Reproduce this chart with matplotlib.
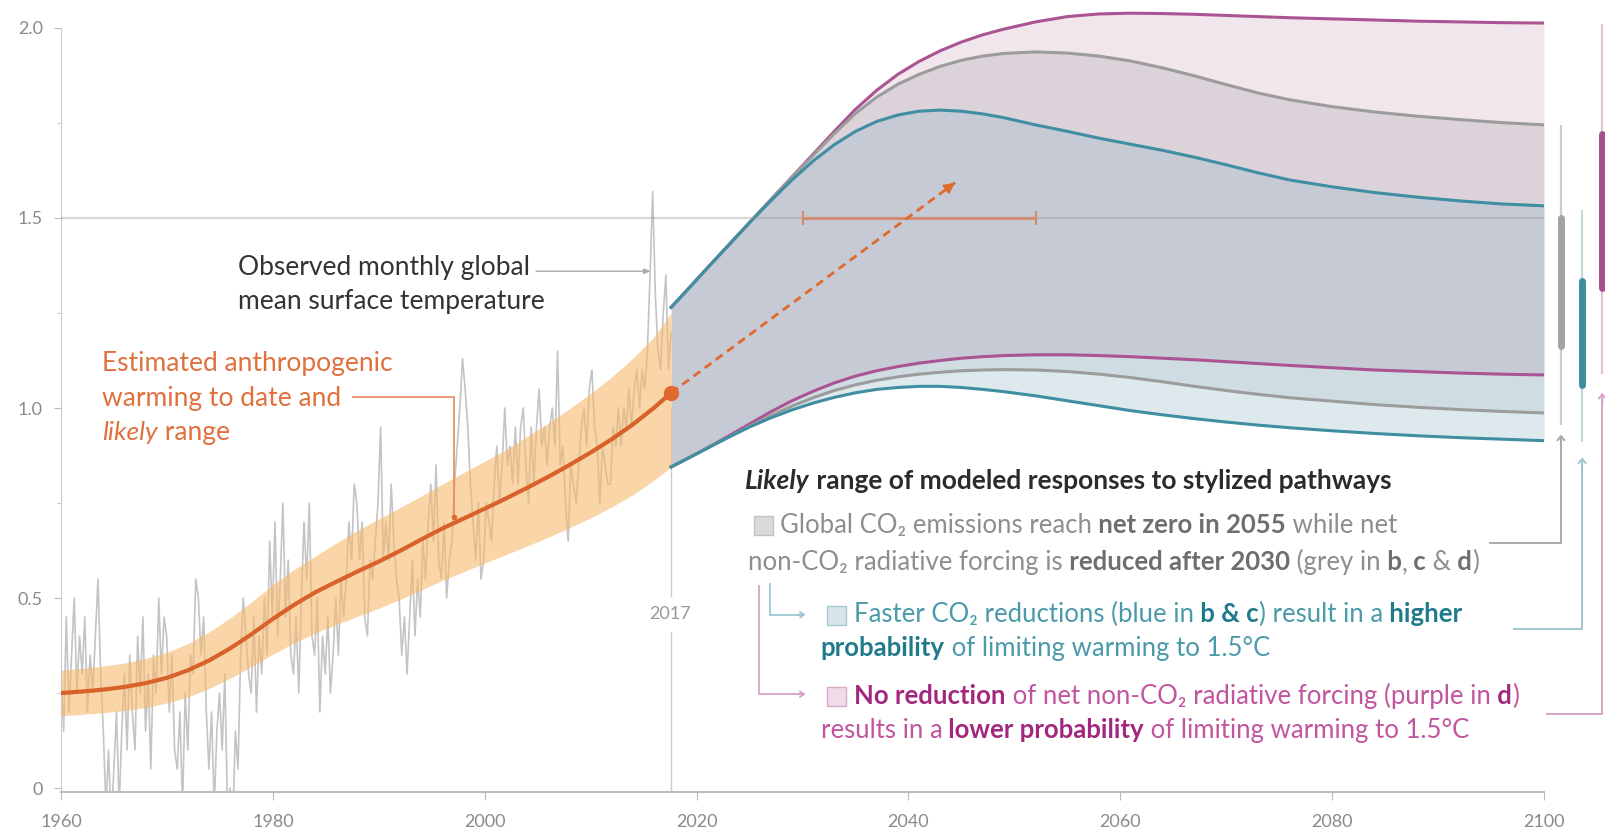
import numpy as np
import matplotlib
matplotlib.use('Agg')
import matplotlib.pyplot as plt
from matplotlib.patches import Rectangle
from matplotlib.transforms import offset_copy

plt.rcParams['font.family'] = ['Lato', 'DejaVu Sans']

# observed global mean surface temperature (4 values per year)
obs_temp = [
    0.30, 0.15, 0.45, 0.20,   0.35, 0.50, 0.25, 0.40,   0.30, 0.45, 0.20, 0.35,
    0.25, 0.40, 0.55, 0.30,   0.15, -0.05, 0.10, -0.10, 0.05, 0.20, -0.05, 0.15,
    0.30, 0.10, 0.35, 0.20,   0.10, 0.40, 0.25, 0.45,   0.15, 0.30, 0.05, 0.35,
    0.25, 0.50, 0.30, 0.45,   0.40, 0.20, 0.35, 0.10,   0.05, 0.20, -0.05, 0.25,
    0.10, 0.35, 0.30, 0.55,   0.50, 0.35, 0.45, 0.20,   0.05, 0.20, -0.05, 0.15,
    0.25, 0.10, 0.30, -0.05,  0.00, -0.10, 0.15, 0.05,  0.35, 0.50, 0.40, 0.30,
    0.25, 0.45, 0.20, 0.40,   0.30, 0.50, 0.35, 0.65,   0.45, 0.70, 0.40, 0.55,
    0.75, 0.45, 0.60, 0.35,   0.30, 0.45, 0.25, 0.50,   0.70, 0.55, 0.75, 0.40,
    0.35, 0.50, 0.20, 0.40,   0.30, 0.45, 0.25, 0.35,   0.50, 0.35, 0.55, 0.45,
    0.55, 0.70, 0.60, 0.80,   0.75, 0.60, 0.70, 0.45,   0.40, 0.60, 0.55, 0.65,
    0.75, 0.95, 0.60, 0.70,   0.60, 0.80, 0.65, 0.55,   0.50, 0.35, 0.45, 0.30,
    0.45, 0.60, 0.40, 0.55,   0.45, 0.65, 0.55, 0.70,   0.80, 0.65, 0.85, 0.60,
    0.55, 0.70, 0.50, 0.60,   0.65, 0.80, 0.90, 1.00,   1.13, 1.05, 0.95, 0.80,
    0.70, 0.60, 0.75, 0.55,   0.60, 0.75, 0.70, 0.65,   0.80, 0.90, 0.75, 0.85,
    1.00, 0.85, 0.90, 0.80,   0.95, 0.80, 0.95, 1.00,   0.85, 0.75, 0.95, 0.80,
    0.95, 1.05, 0.90, 0.95,   0.85, 0.95, 1.00, 0.90,   1.15, 0.85, 0.90, 0.75,
    0.65, 0.85, 0.80, 0.75,   0.85, 0.95, 1.00, 0.90,   1.05, 1.10, 0.95, 0.90,
    0.75, 0.90, 0.85, 0.80,   0.80, 0.95, 0.90, 1.00,   0.90, 1.00, 0.95, 1.05,
    0.95, 1.05, 1.10, 1.00,   1.10, 1.05, 1.15, 1.35,   1.57, 1.30, 1.15, 1.10,
    1.25, 1.35, 1.10, 1.20,
]
obs_first, obs_last = 1960, 2017.6

# human-induced warming and its likely range
anth_years = [1960, 1962, 1964, 1966, 1968, 1970, 1972, 1974, 1976, 1978,
              1980, 1982, 1984, 1986, 1988, 1990, 1992, 1994, 1996, 1998,
              2000, 2002, 2004, 2006, 2008, 2010, 2012, 2014, 2016, 2017.6]
anth_mid = [0.250, 0.254, 0.259, 0.266, 0.276, 0.290, 0.310, 0.336, 0.368, 0.405,
            0.445, 0.482, 0.515, 0.543, 0.570, 0.596, 0.624, 0.654, 0.683, 0.709,
            0.735, 0.762, 0.790, 0.819, 0.850, 0.883, 0.918, 0.957, 1.001, 1.040]
anth_lo = [0.190, 0.194, 0.198, 0.204, 0.212, 0.224, 0.240, 0.262, 0.289, 0.320,
           0.352, 0.382, 0.408, 0.430, 0.452, 0.473, 0.496, 0.521, 0.546, 0.569,
           0.592, 0.614, 0.637, 0.660, 0.685, 0.711, 0.740, 0.772, 0.810, 0.845]
anth_hi = [0.310, 0.315, 0.321, 0.329, 0.341, 0.357, 0.380, 0.411, 0.448, 0.490,
           0.535, 0.575, 0.610, 0.645, 0.678, 0.708, 0.738, 0.768, 0.800, 0.830,
           0.860, 0.890, 0.925, 0.960, 0.998, 1.038, 1.082, 1.131, 1.188, 1.250]

# stylized pathways, likely range
proj_years = [2017.6, 2019, 2021, 2023, 2025, 2027, 2029, 2031, 2033, 2035, 2037, 2039,
              2041, 2043, 2045, 2047, 2049, 2052, 2055, 2058, 2061, 2064, 2067, 2070,
              2073, 2076, 2080, 2084, 2088, 2092, 2096, 2100]
blue_hi = [1.265, 1.307, 1.368, 1.428, 1.488, 1.545, 1.600, 1.650, 1.693, 1.728, 1.754, 1.771,
           1.781, 1.784, 1.781, 1.774, 1.764, 1.745, 1.728, 1.710, 1.694, 1.678, 1.660, 1.640,
           1.619, 1.600, 1.582, 1.567, 1.555, 1.545, 1.537, 1.532]
grey_hi = [1.265, 1.307, 1.368, 1.428, 1.488, 1.548, 1.607, 1.665, 1.722, 1.775, 1.818, 1.852,
           1.878, 1.899, 1.915, 1.926, 1.933, 1.937, 1.934, 1.926, 1.913, 1.895, 1.874, 1.851,
           1.829, 1.811, 1.793, 1.779, 1.768, 1.759, 1.751, 1.745]
purple_hi = [1.265, 1.307, 1.368, 1.428, 1.488, 1.548, 1.608, 1.668, 1.728, 1.786, 1.836, 1.878,
             1.912, 1.940, 1.963, 1.982, 1.997, 2.016, 2.030, 2.037, 2.039, 2.038, 2.036, 2.033,
             2.030, 2.027, 2.024, 2.021, 2.018, 2.016, 2.014, 2.013]
blue_lo = [0.845, 0.865, 0.894, 0.923, 0.950, 0.974, 0.995, 1.013, 1.028, 1.040, 1.049, 1.054,
           1.057, 1.057, 1.054, 1.049, 1.043, 1.032, 1.019, 1.006, 0.993, 0.982, 0.972, 0.963,
           0.955, 0.948, 0.940, 0.933, 0.927, 0.922, 0.918, 0.914]
grey_lo = [0.845, 0.865, 0.894, 0.923, 0.952, 0.980, 1.005, 1.027, 1.046, 1.061, 1.073, 1.082,
           1.089, 1.094, 1.098, 1.100, 1.101, 1.100, 1.096, 1.089, 1.080, 1.069, 1.057, 1.046,
           1.036, 1.027, 1.018, 1.009, 1.002, 0.996, 0.991, 0.987]
purple_lo = [0.845, 0.865, 0.895, 0.926, 0.958, 0.990, 1.019, 1.044, 1.066, 1.084, 1.098, 1.109,
             1.118, 1.125, 1.131, 1.135, 1.138, 1.140, 1.140, 1.138, 1.135, 1.131, 1.127, 1.122,
             1.117, 1.112, 1.106, 1.100, 1.096, 1.092, 1.089, 1.087]

# present-rate extrapolation and the 1.5 crossing range
trend_years = [2017.6, 2044.4]
trend_vals = [1.04, 1.593]
cross_years = [2030, 2052]

# ranges at 2100 (grey, blue, purple)
bar_thin_lo = [0.955, 0.91, 1.09]
bar_thin_hi = [1.745, 1.52, 2.01]
bar_thick_lo = [1.163, 1.06, 1.315]
bar_thick_hi = [1.50, 1.335, 1.72]

fig = plt.figure(figsize=(16.06, 8.33), dpi=100)
ax = fig.add_axes([0.038, 0.0492, 0.9234, 0.9412])
ax.set_xlim(1960, 2100)
ax.set_ylim(-0.0105, 2.0526)

# observed monthly data + anthropogenic warming
obs_x = np.linspace(obs_first, obs_last, len(obs_temp))
ax.plot(obs_x, obs_temp, color='#c4c4c4', lw=1.2, zorder=2)
ax.fill_between(anth_years, anth_lo, anth_hi, color='#f5b96e', alpha=0.6, lw=0, zorder=3)
ax.plot(anth_years, anth_mid, color='#d9622b', lw=3, zorder=6, solid_capstyle='round')
ax.plot(anth_years[-1], anth_mid[-1], 'o', color='#e0692e', ms=10, zorder=7)

# pathway regions
ax.fill_between(proj_years, blue_lo, grey_lo, color='#dde9ed', lw=0, zorder=1)
ax.fill_between(proj_years, grey_lo, purple_lo, color='#cfdce1', lw=0, zorder=1)
ax.fill_between(proj_years, purple_lo, blue_hi, color='#c6cad4', lw=0, zorder=1)
ax.fill_between(proj_years, blue_hi, grey_hi, color='#dcd2da', lw=0, zorder=1)
ax.fill_between(proj_years, grey_hi, purple_hi, color='#f1e6ec', lw=0, zorder=1)
for lo, hi, c in [(purple_lo, purple_hi, '#ab5493'), (grey_lo, grey_hi, '#9c9c9c'),
                  (blue_lo, blue_hi, '#3f8ea2')]:
    ax.plot(proj_years, lo, color=c, lw=2.2, zorder=4)
    ax.plot(proj_years, hi, color=c, lw=2.2, zorder=4)

# 1.5 line, 2017 marker line
ax.axhline(1.5, color='#9a9a9a', alpha=0.4, lw=1.6, zorder=5)
ax.plot([2017.6, 2017.6], [-0.0105, 0.41], color='#cccccc', lw=1, zorder=2)
ax.plot([2017.6, 2017.6], [0.505, 1.0], color='#cccccc', lw=1, zorder=2)
ax.text(2017.5, 0.458, '2017', fontsize=13, color='#999999', ha='center', va='center')

# crossing range and extrapolation arrow
ax.errorbar(np.mean(cross_years), 1.5, xerr=(cross_years[1] - cross_years[0]) / 2,
            fmt='none', ecolor='#d68a6c', elinewidth=2, capsize=5, capthick=1.5, zorder=6)
ax.plot(trend_years, trend_vals, color='#e0692e', lw=2, ls=(0, (3, 2)), zorder=7)
slope = (trend_vals[1] - trend_vals[0]) / (trend_years[1] - trend_years[0])
ax.annotate('', xy=(trend_years[1], trend_vals[1]),
            xytext=(trend_years[1] - 0.6, trend_vals[1] - 0.6 * slope),
            arrowprops=dict(arrowstyle='-|>,head_length=0.7,head_width=0.35', color='#e0692e',
                            lw=1, shrinkA=0, shrinkB=0), zorder=8)

# bars at 2100
bar_x = [2101.6, 2103.6, 2105.5]
thin_c = ['#cccccc', '#c4d8de', '#dfc3d5']
thick_c = ['#a3a3a3', '#3e8ea0', '#a8508f']
for i in range(3):
    ax.plot([bar_x[i]] * 2, [bar_thin_lo[i], bar_thin_hi[i]], color=thin_c[i], lw=1.6,
            clip_on=False, solid_capstyle='butt')
    ax.plot([bar_x[i]] * 2, [bar_thick_lo[i], bar_thick_hi[i]], color=thick_c[i], lw=5,
            clip_on=False, solid_capstyle='round')

# connectors from legend lines to bars
conn = [(2094.9, 0.645, 0.93, '#aaaaaa'), (2097.2, 0.418, 0.87, '#9fc6d1'),
        (2100.3, 0.195, 1.04, '#d6a7c7')]
for i, (x0, y0, y1, c) in enumerate(conn):
    ax.plot([x0, bar_x[i], bar_x[i]], [y0, y0, y1 - 0.01], color=c, lw=1.4, clip_on=False)
    ax.annotate('', xy=(bar_x[i], y1), xytext=(bar_x[i], y1 - 0.03),
                arrowprops=dict(arrowstyle='->,head_length=0.3,head_width=0.25', color=c,
                                lw=1.4, shrinkA=0, shrinkB=0), annotation_clip=False)

renderer = fig.canvas.get_renderer()


def rich_line(x, y, parts, size):
    dx = 0
    for s, color, weight, style in parts:
        tr = offset_copy(ax.transData, fig=fig, x=dx, y=0, units='dots')
        t = ax.text(x, y, s, transform=tr, fontsize=size, color=color,
                    fontweight=weight, fontstyle=style, ha='left', va='baseline', zorder=9)
        dx += t.get_window_extent(renderer).width


# annotations on the left
obs_c = '#333333'
rich_line(1976.7, 1.351, [('Observed monthly global', obs_c, 'normal', 'normal')], 19)
rich_line(1976.7, 1.26, [('mean surface temperature', obs_c, 'normal', 'normal')], 19)
ax.annotate('', xy=(2015.7, 1.36), xytext=(2004.85, 1.36),
            arrowprops=dict(arrowstyle='-|>,head_length=0.4,head_width=0.15', color='#aaaaaa',
                            lw=1, shrinkA=0, shrinkB=0))

est_c = '#e0703c'
rich_line(1963.9, 1.097, [('Estimated anthropogenic', est_c, 'normal', 'normal')], 19)
rich_line(1963.9, 1.004, [('warming to date and', est_c, 'normal', 'normal')], 19)
rich_line(1963.9, 0.915, [('likely', est_c, 'normal', 'italic'),
                          (' range', est_c, 'normal', 'normal')], 19)
ax.plot([1987.6, 1997.1, 1997.1], [1.029, 1.029, 0.713], color='#e58a60', lw=1.2, zorder=6)
ax.plot(1997.1, 0.713, 'o', color='#e0692e', ms=3, zorder=6)

# legend block
fs = 18.5
rich_line(2024.6, 0.787, [('Likely', '#2b2b2b', 'bold', 'italic'),
                          (' range of modeled responses to stylized pathways', '#2b2b2b', 'bold', 'normal')], 19)

gn, gb = '#8e8e8e', '#6e6e6e'
ax.add_patch(Rectangle((2025.4, 0.665), 1.8, 0.05, facecolor='#dadada', edgecolor='#c2c2c2',
                       lw=1, zorder=9, clip_on=False))
rich_line(2027.9, 0.671, [('Global CO₂ emissions reach', gn, 'normal', 'normal'),
                          (' net zero in 2055', gb, 'bold', 'normal'),
                          (' while net', gn, 'normal', 'normal')], fs)
rich_line(2024.9, 0.574, [('non-CO₂ radiative forcing is', gn, 'normal', 'normal'),
                          (' reduced after 2030', gb, 'bold', 'normal'),
                          (' (grey in', gn, 'normal', 'normal'),
                          (' b', gb, 'bold', 'normal'),
                          (',', gn, 'normal', 'normal'),
                          (' c', gb, 'bold', 'normal'),
                          (' &', gn, 'normal', 'normal'),
                          (' d', gb, 'bold', 'normal'),
                          (')', gn, 'normal', 'normal')], fs)

bn, bb = '#4a9aaa', '#1f7a8c'
ax.plot([2026.9, 2026.9, 2030.0], [0.537, 0.456, 0.456], color='#9cc6d2', lw=1.3, zorder=9)
ax.annotate('', xy=(2030.3, 0.456), xytext=(2029.5, 0.456),
            arrowprops=dict(arrowstyle='->,head_length=0.3,head_width=0.2', color='#9cc6d2',
                            lw=1.3, shrinkA=0, shrinkB=0))
ax.add_patch(Rectangle((2032.3, 0.43), 1.8, 0.05, facecolor='#d6e6eb', edgecolor='#a9cad3',
                       lw=1, zorder=9, clip_on=False))
rich_line(2034.9, 0.437, [('Faster CO₂ reductions (blue in', bn, 'normal', 'normal'),
                          (' b & c', bb, 'bold', 'normal'),
                          (') result in a', bn, 'normal', 'normal'),
                          (' higher', bb, 'bold', 'normal')], fs)
rich_line(2031.7, 0.347, [('probability', bb, 'bold', 'normal'),
                          (' of limiting warming to 1.5°C', bn, 'normal', 'normal')], fs)

pn, pb = '#c2559f', '#a3267f'
ax.plot([2025.9, 2025.9, 2030.0], [0.532, 0.247, 0.247], color='#d9a0c6', lw=1.3, zorder=9)
ax.annotate('', xy=(2030.3, 0.247), xytext=(2029.5, 0.247),
            arrowprops=dict(arrowstyle='->,head_length=0.3,head_width=0.2', color='#d9a0c6',
                            lw=1.3, shrinkA=0, shrinkB=0))
ax.add_patch(Rectangle((2032.3, 0.217), 1.8, 0.05, facecolor='#eedde8', edgecolor='#d7a9c7',
                       lw=1, zorder=9, clip_on=False))
rich_line(2034.9, 0.221, [('No reduction', pb, 'bold', 'normal'),
                          (' of net non-CO₂ radiative forcing (purple in', pn, 'normal', 'normal'),
                          (' d', pb, 'bold', 'normal'),
                          (')', pn, 'normal', 'normal')], fs)
rich_line(2031.7, 0.132, [('results in a', pn, 'normal', 'normal'),
                          (' lower probability', pb, 'bold', 'normal'),
                          (' of limiting warming to 1.5°C', pn, 'normal', 'normal')], fs)

# axes styling
for s in ['top', 'right']:
    ax.spines[s].set_visible(False)
ax.spines['left'].set_color('#cccccc')
ax.spines['left'].set_bounds(-0.0105, 2.0)
ax.spines['bottom'].set_color('#bdbdbd')
ax.spines['bottom'].set_linewidth(1.5)
ax.set_yticks([0, 0.5, 1.0, 1.5, 2.0])
ax.set_yticklabels(['0', '0.5', '1.0', '1.5', '2.0'])
ax.set_yticks([0.25, 0.75, 1.25, 1.75], minor=True)
ax.set_xticks(range(1960, 2101, 20))
ax.tick_params(axis='y', which='both', colors='#bbbbbb', labelcolor='#8a8a8a',
               labelsize=13, pad=8)
ax.tick_params(axis='y', which='major', length=5)
ax.tick_params(axis='y', which='minor', length=3)
ax.tick_params(axis='x', colors='#bbbbbb', labelcolor='#8a8a8a', labelsize=13,
               length=6, pad=10)

fig.savefig('out.png', dpi=100)
